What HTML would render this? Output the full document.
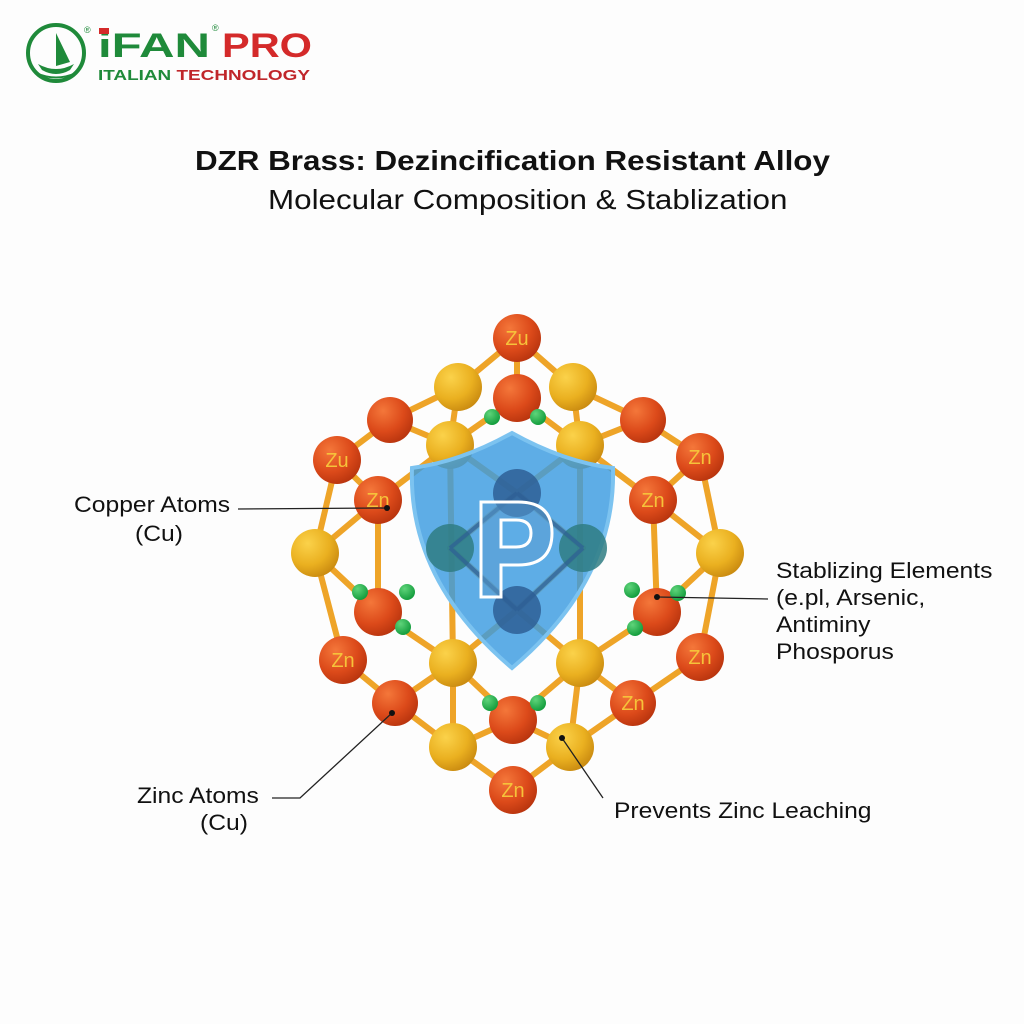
<!DOCTYPE html>
<html><head><meta charset="utf-8"><style>
html,body{margin:0;padding:0;background:#fdfdfd;}
body{width:1024px;height:1024px;position:relative;overflow:hidden;font-family:"Liberation Sans",sans-serif;}
.t{position:absolute;white-space:nowrap;color:#111;transform:scaleX(1.12);transform-origin:0 0;}
</style></head><body>
<svg width="1024" height="1024" style="position:absolute;left:0;top:0">
<defs>
<radialGradient id="go" cx="35%" cy="30%" r="75%"><stop offset="0" stop-color="#f4773a"/><stop offset=".6" stop-color="#dc4a1a"/><stop offset="1" stop-color="#b8340e"/></radialGradient>
<radialGradient id="gy" cx="35%" cy="30%" r="75%"><stop offset="0" stop-color="#fbd24a"/><stop offset=".6" stop-color="#eab020"/><stop offset="1" stop-color="#c98a10"/></radialGradient>
<radialGradient id="gg" cx="35%" cy="30%" r="75%"><stop offset="0" stop-color="#5fd47a"/><stop offset="1" stop-color="#109a3a"/></radialGradient>
</defs>
<!-- logo -->
<circle cx="56" cy="53" r="28" fill="none" stroke="#1f8a3a" stroke-width="4"/>
<path d="M56 33 L56 66 L70 62 Z" fill="#1f8a3a"/>
<path d="M38 64 Q56 74 74 64 L70 70 Q56 78 42 70Z" fill="#1f8a3a"/>
<path d="M36 73 Q56 82 76 73" stroke="#1f8a3a" stroke-width="2" fill="none"/>
<text x="84" y="33" font-size="9" fill="#1f8a3a" font-family="Liberation Sans">®</text>
<text x="98" y="57" font-size="34" font-weight="bold" fill="#1f8a3a" font-family="Liberation Sans" textLength="112" lengthAdjust="spacingAndGlyphs">iFAN</text>
<rect x="99" y="28" width="10" height="6" fill="#d42a2a"/>
<text x="212" y="31" font-size="9" fill="#1f8a3a">®</text>
<text x="222" y="57" font-size="34" font-weight="bold" fill="#d42a2a" font-family="Liberation Sans" textLength="90" lengthAdjust="spacingAndGlyphs">PRO</text>
<text x="98" y="80" font-size="15" font-weight="bold" fill="#1f8a3a" textLength="212" lengthAdjust="spacingAndGlyphs">ITALIAN <tspan fill="#c0262a">TECHNOLOGY</tspan></text>

<g stroke="#eea428" stroke-width="6" stroke-linecap="round">
<line x1="517" y1="338" x2="458" y2="387"/><line x1="517" y1="338" x2="573" y2="387"/><line x1="517" y1="338" x2="517" y2="398"/>
<line x1="458" y1="387" x2="390" y2="420"/><line x1="573" y1="387" x2="643" y2="420"/>
<line x1="458" y1="387" x2="450" y2="445"/><line x1="573" y1="387" x2="580" y2="445"/>
<line x1="390" y1="420" x2="337" y2="460"/><line x1="643" y1="420" x2="700" y2="457"/>
<line x1="390" y1="420" x2="450" y2="445"/><line x1="643" y1="420" x2="580" y2="445"/>
<line x1="337" y1="460" x2="378" y2="500"/><line x1="700" y1="457" x2="653" y2="500"/>
<line x1="337" y1="460" x2="315" y2="553"/><line x1="700" y1="457" x2="720" y2="553"/>
<line x1="378" y1="500" x2="315" y2="553"/><line x1="653" y1="500" x2="720" y2="553"/>
<line x1="378" y1="500" x2="378" y2="612"/><line x1="653" y1="500" x2="657" y2="612"/>
<line x1="378" y1="500" x2="450" y2="445"/><line x1="653" y1="500" x2="580" y2="445"/>
<line x1="315" y1="553" x2="378" y2="612"/><line x1="720" y1="553" x2="657" y2="612"/>
<line x1="315" y1="553" x2="343" y2="660"/><line x1="720" y1="553" x2="700" y2="657"/>
<line x1="343" y1="660" x2="395" y2="703"/><line x1="700" y1="657" x2="633" y2="703"/>
<line x1="395" y1="703" x2="453" y2="663"/><line x1="633" y1="703" x2="580" y2="663"/>
<line x1="395" y1="703" x2="453" y2="747"/><line x1="633" y1="703" x2="570" y2="747"/>
<line x1="453" y1="747" x2="513" y2="790"/><line x1="570" y1="747" x2="513" y2="790"/>
<line x1="453" y1="747" x2="513" y2="720"/><line x1="570" y1="747" x2="513" y2="720"/>
<line x1="453" y1="663" x2="453" y2="747"/><line x1="580" y1="663" x2="570" y2="747"/>
<line x1="378" y1="612" x2="453" y2="663"/><line x1="657" y1="612" x2="580" y2="663"/>
<line x1="450" y1="445" x2="453" y2="663"/><line x1="580" y1="445" x2="580" y2="663"/>
<line x1="453" y1="663" x2="513" y2="720"/><line x1="580" y1="663" x2="513" y2="720"/>
<line x1="450" y1="445" x2="517" y2="493"/><line x1="580" y1="445" x2="517" y2="493"/>
<line x1="517" y1="493" x2="450" y2="548"/><line x1="517" y1="493" x2="583" y2="548"/>
<line x1="450" y1="548" x2="517" y2="610"/><line x1="583" y1="548" x2="517" y2="610"/>
<line x1="517" y1="610" x2="453" y2="663"/><line x1="517" y1="610" x2="580" y2="663"/>
<line x1="517" y1="398" x2="450" y2="445"/><line x1="517" y1="398" x2="580" y2="445"/>
</g>
<g fill="url(#go)">
<circle cx="517" cy="338" r="24"/><circle cx="517" cy="398" r="24"/><circle cx="390" cy="420" r="23"/><circle cx="643" cy="420" r="23"/>
<circle cx="337" cy="460" r="24"/><circle cx="700" cy="457" r="24"/><circle cx="378" cy="500" r="24"/><circle cx="653" cy="500" r="24"/>
<circle cx="378" cy="612" r="24"/><circle cx="657" cy="612" r="24"/><circle cx="343" cy="660" r="24"/><circle cx="700" cy="657" r="24"/>
<circle cx="395" cy="703" r="23"/><circle cx="633" cy="703" r="23"/><circle cx="513" cy="720" r="24"/><circle cx="513" cy="790" r="24"/>
</g>
<g fill="url(#gy)">
<circle cx="458" cy="387" r="24"/><circle cx="573" cy="387" r="24"/><circle cx="450" cy="445" r="24"/><circle cx="580" cy="445" r="24"/>
<circle cx="315" cy="553" r="24"/><circle cx="720" cy="553" r="24"/><circle cx="453" cy="663" r="24"/><circle cx="580" cy="663" r="24"/>
<circle cx="453" cy="747" r="24"/><circle cx="570" cy="747" r="24"/>
</g>
<g fill="url(#gg)">
<circle cx="492" cy="417" r="8"/><circle cx="538" cy="417" r="8"/><circle cx="360" cy="592" r="8"/><circle cx="407" cy="592" r="8"/><circle cx="403" cy="627" r="8"/>
<circle cx="632" cy="590" r="8"/><circle cx="678" cy="593" r="8"/><circle cx="635" cy="628" r="8"/><circle cx="490" cy="703" r="8"/><circle cx="538" cy="703" r="8"/>
</g>
<g font-size="20" fill="#f6c23a" text-anchor="middle" font-family="Liberation Sans">
<text x="517" y="345">Zu</text><text x="337" y="467">Zu</text><text x="700" y="464">Zn</text><text x="378" y="507">Zn</text><text x="653" y="507">Zn</text>
<text x="343" y="667">Zn</text><text x="700" y="664">Zn</text><text x="633" y="710">Zn</text><text x="513" y="797">Zn</text>
</g>
<!-- shield -->
<path d="M512 433 Q460 462 412 468 Q408 580 512 668 Q616 580 613 468 Q564 462 512 433Z" fill="#3b9be0" fill-opacity=".82" stroke="#7cc3f0" stroke-width="4"/>
<g fill="#2e5f95" fill-opacity=".85"><circle cx="517" cy="493" r="24"/><circle cx="517" cy="610" r="24"/></g>
<g fill="#2f7d82" fill-opacity=".85"><circle cx="450" cy="548" r="24"/><circle cx="583" cy="548" r="24"/></g>
<g stroke="#2e5f95" stroke-width="4" opacity=".7">
<line x1="517" y1="493" x2="450" y2="548"/><line x1="517" y1="493" x2="583" y2="548"/><line x1="450" y1="548" x2="517" y2="610"/><line x1="583" y1="548" x2="517" y2="610"/>
</g>
<path d="M481 502 L481 597 L501 597 L501 565 L518 565 Q552 565 552 533 Q552 502 518 502Z M501 520 L516 520 Q531 520 531 533 Q531 547 516 547 L501 547Z" fill="#5a9bd0" fill-opacity=".5" fill-rule="evenodd" stroke="#fff" stroke-width="3"/>
<!-- leaders -->
<g stroke="#222" stroke-width="1.3" fill="none">
<line x1="238" y1="509" x2="387" y2="508"/>
<line x1="657" y1="597" x2="768" y2="599"/>
<polyline points="272,798 300,798 392,713"/>
<line x1="562" y1="738" x2="603" y2="798"/>
</g>
<g fill="#111"><circle cx="387" cy="508" r="3"/><circle cx="657" cy="597" r="3"/><circle cx="392" cy="713" r="3"/><circle cx="562" cy="738" r="3"/></g>
</svg>
<div class="t" style="left:195px;top:145px;font-size:28px;font-weight:bold;">DZR Brass: Dezincification Resistant Alloy</div>
<div class="t" style="left:268px;top:184px;font-size:28px;">Molecular Composition &amp; Stablization</div>
<div class="t" style="left:74px;top:492px;font-size:22px;">Copper Atoms</div>
<div class="t" style="left:135px;top:521px;font-size:22px;">(Cu)</div>
<div class="t" style="left:776px;top:557px;font-size:22px;line-height:27px;">Stablizing Elements<br>(e.pl, Arsenic,<br>Antiminy<br>Phosporus</div>
<div class="t" style="left:137px;top:783px;font-size:22px;">Zinc Atoms</div>
<div class="t" style="left:200px;top:810px;font-size:22px;">(Cu)</div>
<div class="t" style="left:614px;top:798px;font-size:22px;">Prevents Zinc Leaching</div>
</body></html>
